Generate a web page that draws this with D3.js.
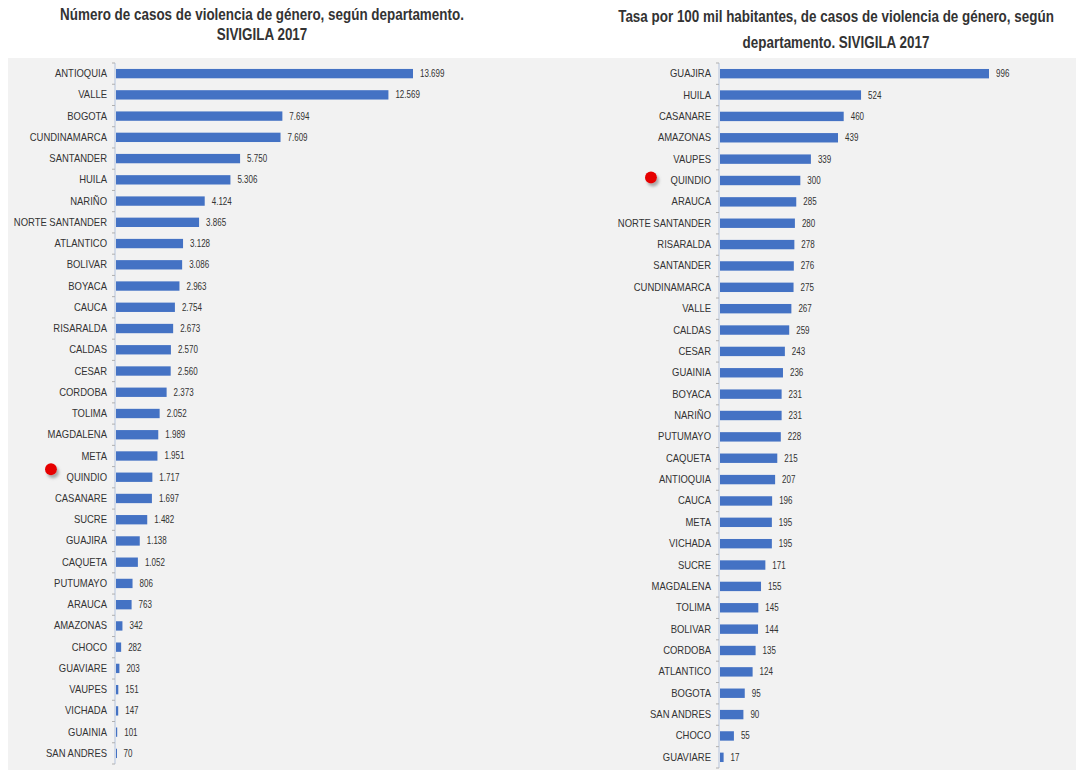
<!DOCTYPE html>
<html><head><meta charset="utf-8">
<script src="https://cdn.jsdelivr.net/npm/d3@7"></script>
<style>
body{margin:0;background:#fff;}
svg{display:block;}
text{font-family:"Liberation Sans",Arial,sans-serif;}
</style></head><body>
<svg id="chart" width="1076" height="770"></svg>
<script>
const leftTitle = ["Número de casos de violencia de género, según departamento.", "SIVIGILA 2017"];
const leftCategories = ["ANTIOQUIA","VALLE","BOGOTA","CUNDINAMARCA","SANTANDER","HUILA","NARIÑO","NORTE SANTANDER","ATLANTICO","BOLIVAR","BOYACA","CAUCA","RISARALDA","CALDAS","CESAR","CORDOBA","TOLIMA","MAGDALENA","META","QUINDIO","CASANARE","SUCRE","GUAJIRA","CAQUETA","PUTUMAYO","ARAUCA","AMAZONAS","CHOCO","GUAVIARE","VAUPES","VICHADA","GUAINIA","SAN ANDRES"];
const leftValues = [13699,12569,7694,7609,5750,5306,4124,3865,3128,3086,2963,2754,2673,2570,2560,2373,2052,1989,1951,1717,1697,1482,1138,1052,806,763,342,282,203,151,147,101,70];

const rightTitle = ["Tasa por 100 mil habitantes, de casos de violencia de género, según", "departamento. SIVIGILA 2017"];
const rightCategories = ["GUAJIRA","HUILA","CASANARE","AMAZONAS","VAUPES","QUINDIO","ARAUCA","NORTE SANTANDER","RISARALDA","SANTANDER","CUNDINAMARCA","VALLE","CALDAS","CESAR","GUAINIA","BOYACA","NARIÑO","PUTUMAYO","CAQUETA","ANTIOQUIA","CAUCA","META","VICHADA","SUCRE","MAGDALENA","TOLIMA","BOLIVAR","CORDOBA","ATLANTICO","BOGOTA","SAN ANDRES","CHOCO","GUAVIARE"];
const rightValues = [996,524,460,439,339,300,285,280,278,276,275,267,259,243,236,231,231,228,215,207,196,195,195,171,155,145,144,135,124,95,90,55,17];

const highlight = "QUINDIO";

const svg = d3.select("#chart");
const fmt = d3.formatLocale({decimal:",", thousands:".", grouping:[3], currency:["$",""]}).format(",d");

function condense(sel, k){
  sel.each(function(){
    const len = this.getComputedTextLength();
    d3.select(this).attr("textLength", len*k).attr("lengthAdjust","spacingAndGlyphs");
  });
}

const defs = svg.append("defs");
const f = defs.append("filter").attr("id","sh").attr("x","-50%").attr("y","-50%").attr("width","200%").attr("height","200%");
f.append("feDropShadow").attr("dx",2).attr("dy",3).attr("stdDeviation",1.5).attr("flood-color","#777").attr("flood-opacity",0.6);

svg.append("rect").attr("x",8).attr("y",58).attr("width",1068).attr("height",712).attr("fill","#f2f2f2");

function panel(cfg){
  const g = svg.append("g");
  const y = d3.scaleBand().domain(cfg.categories).range([cfg.y0, cfg.y1]).paddingInner(0.56).paddingOuter(0.28);
  const x = d3.scaleLinear().domain([0, cfg.max]).range([cfg.x0, cfg.x1]);
  const data = cfg.categories.map((c,i)=>({c, v:cfg.values[i]}));

  cfg.title.forEach((t,i)=>{
    g.append("g").attr("transform",`translate(${cfg.tx},${cfg.ty[i]}) scale(0.84,1)`)
      .append("text").attr("x",0).attr("y",0).attr("text-anchor","middle")
      .attr("font-size",16).attr("font-weight","bold").attr("fill","#333").text(t);
  });

  g.selectAll("rect.bar").data(data).enter().append("rect").attr("class","bar")
    .attr("x", x(0)+1).attr("y", d=>y(d.c)).attr("width", d=>Math.max(1,x(d.v)-x(0)-1)).attr("height", y.bandwidth())
    .attr("fill","#4472c4");

  const vals = g.selectAll("text.val").data(data).enter().append("text").attr("class","val")
    .attr("x", d=>x(d.v)+7).attr("y", d=>y(d.c)+y.bandwidth()/2).attr("dy","0.35em")
    .attr("font-size",10).attr("fill","#333").text(d=>fmt(d.v));
  condense(vals, 0.8);

  const ax = d3.axisLeft(y).tickSize(0).tickPadding(8);
  const ag = g.append("g").attr("transform",`translate(${x(0)},0)`).call(ax);
  ag.select(".domain").remove();
  ag.selectAll("text").attr("font-size",11).attr("fill","#333").style("font-family",'"Liberation Sans",Arial,sans-serif');
  condense(ag.selectAll("text"), 0.86);

  g.append("line").attr("x1",x(0)).attr("x2",x(0)).attr("y1",cfg.y0).attr("y2",cfg.y1)
    .attr("stroke","#b4c3dc").attr("stroke-width",1);
  const bounds = d3.range(cfg.categories.length+1).map(i=>cfg.y0 + i*(cfg.y1-cfg.y0)/cfg.categories.length);
  g.selectAll("line.tk").data(bounds).enter().append("line").attr("class","tk")
    .attr("x1",x(0)-3).attr("x2",x(0)).attr("y1",d=>d).attr("y2",d=>d)
    .attr("stroke","#b0b0b0").attr("stroke-width",1);

  const hy = y(highlight)+y.bandwidth()/2;
  g.append("circle").attr("cx",cfg.dotX).attr("cy",hy+cfg.dotDy).attr("r",6).attr("fill","#e60000").attr("filter","url(#sh)");
}

panel({title:leftTitle, tx:262, ty:[20,40], categories:leftCategories, values:leftValues, max:13699,
  x0:115, x1:413, y0:63, y1:764, dotX:51, dotDy:-8});
panel({title:rightTitle, tx:836, ty:[22,48], categories:rightCategories, values:rightValues, max:996,
  x0:719, x1:989, y0:63, y1:768, dotX:651, dotDy:-3});
</script>
</body></html>
